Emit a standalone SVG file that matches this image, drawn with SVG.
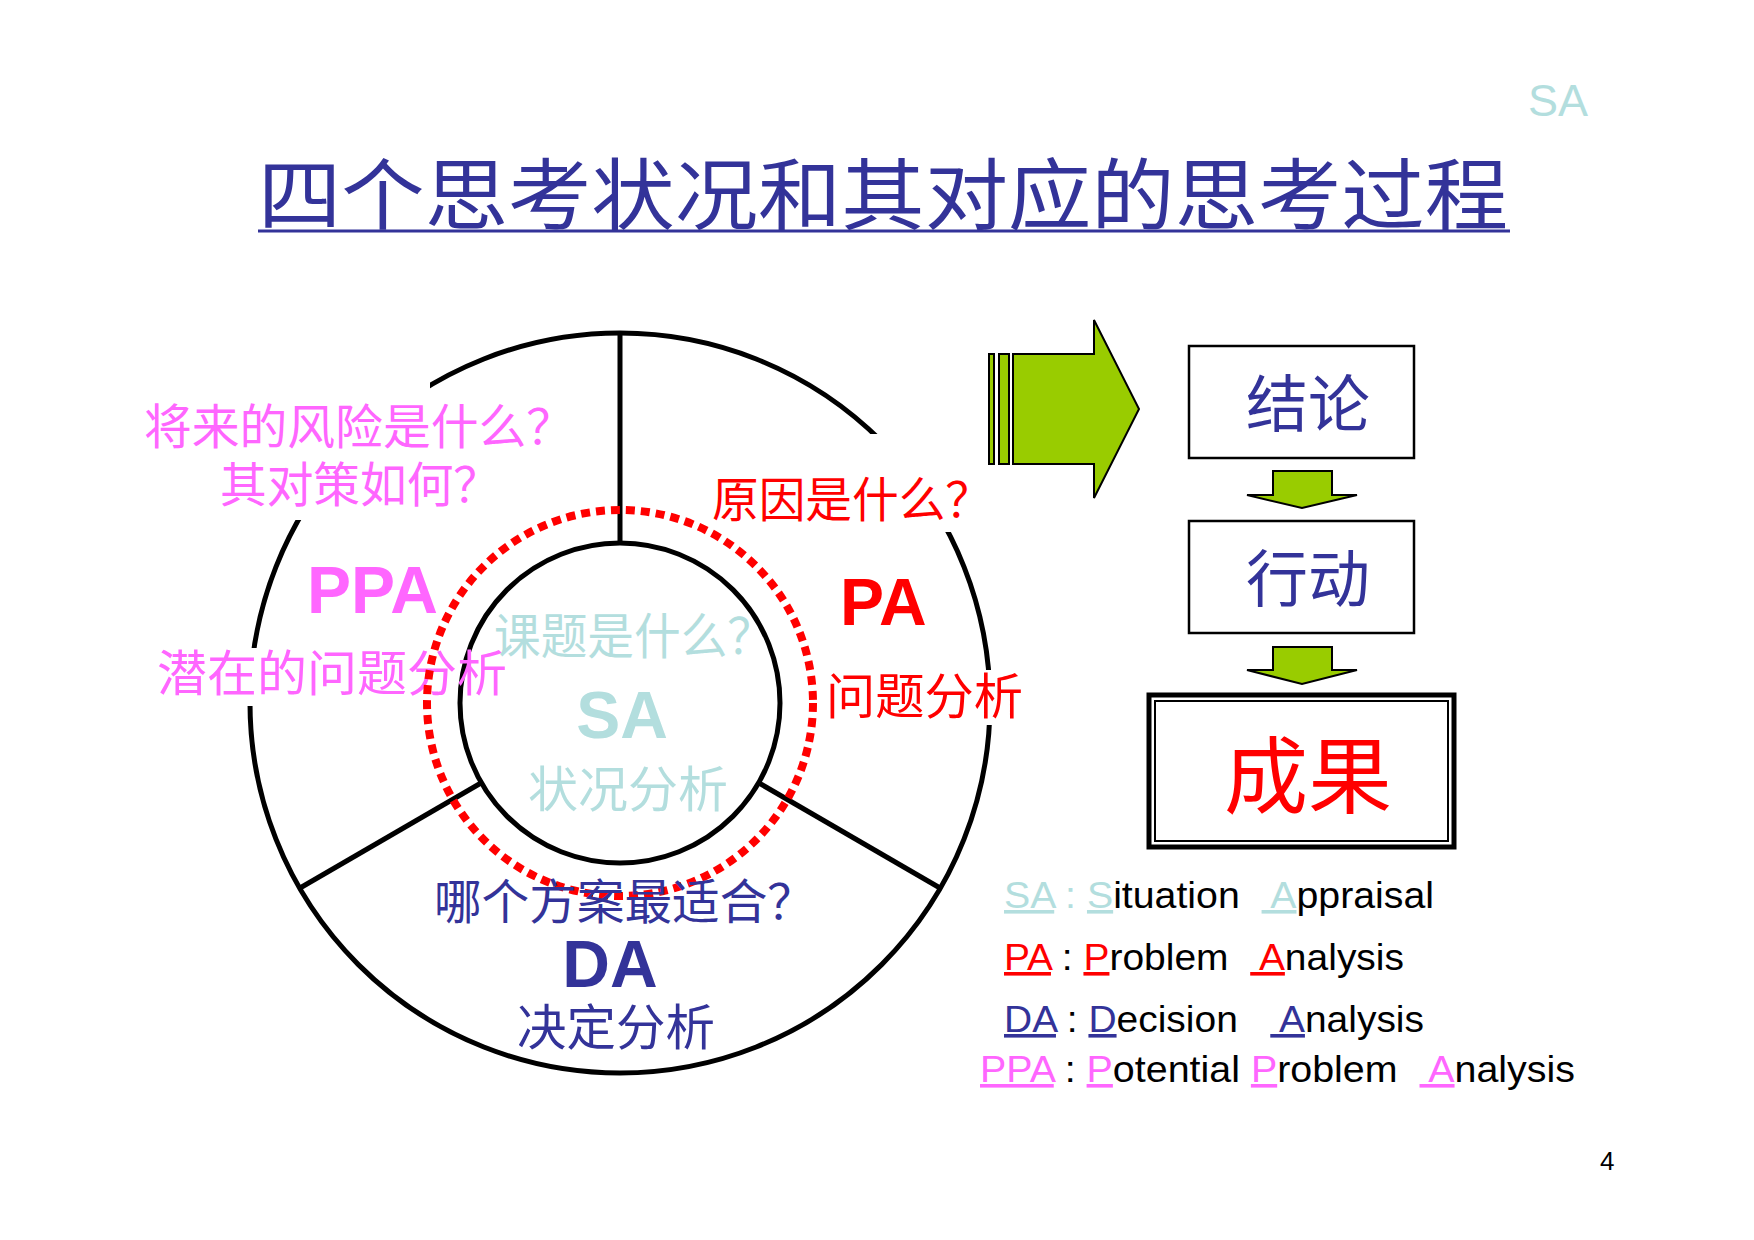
<svg xmlns="http://www.w3.org/2000/svg" width="1754" height="1240" viewBox="0 0 1754 1240">
<style>
.cjk{font-family:"Noto Sans CJK SC","Noto Sans CJK JP",sans-serif}
.lat{font-family:"Liberation Sans",Arial,sans-serif;font-weight:bold}
.leg{font-family:"Liberation Sans",Arial,sans-serif;font-size:36px;fill:#000;white-space:pre}
.grn{fill:#99cc00;stroke:#000;stroke-width:2}
.box{fill:#fff;stroke:#000;stroke-width:2.5}
.mask{fill:#fff}
</style>
<rect width="1754" height="1240" fill="#fff"/>
<text x="1528" y="116" class="lat" style="font-weight:normal" font-size="45" fill="#b3dede">SA</text>
<g id="title">
<text x="883" y="224" class="cjk" font-size="78" fill="#333399" text-anchor="middle" textLength="1250" lengthAdjust="spacingAndGlyphs">四个思考状况和其对应的思考过程</text>
<line x1="258" y1="231" x2="1510" y2="231" stroke="#333399" stroke-width="3"/>
</g>
<g id="wheel">
<circle cx="620" cy="703" r="370" fill="none" stroke="#000" stroke-width="5"/>
<circle cx="620" cy="703" r="160" fill="none" stroke="#000" stroke-width="5"/>
</g>
<g id="connectors" stroke="#000" stroke-width="5">
<line x1="620" y1="333" x2="620" y2="543"/>
<line x1="481" y1="783" x2="300" y2="888"/>
<line x1="759" y1="783" x2="940" y2="888"/>
</g>
<rect class="mask" x="140" y="374" width="290" height="146"/>
<rect class="mask" x="430" y="395" width="150" height="125"/>
<rect class="mask" x="710" y="434" width="290" height="98"/>
<rect class="mask" x="150" y="648" width="112" height="58"/>
<rect class="mask" x="830" y="670" width="200" height="55"/>
<g id="ppa">
<text x="144" y="444" class="cjk" font-size="48" fill="#ff66ff" textLength="430" lengthAdjust="spacingAndGlyphs">将来的风险是什么？</text>
<text x="220" y="502" class="cjk" font-size="48" fill="#ff66ff" textLength="280" lengthAdjust="spacingAndGlyphs">其对策如何？</text>
<text x="307" y="613" class="lat" font-size="66" fill="#ff66ff">PPA</text>
<text x="157" y="691" class="cjk" font-size="49" fill="#ff66ff" textLength="350" lengthAdjust="spacingAndGlyphs">潜在的问题分析</text>
</g>
<g id="pa">
<text x="712" y="517" class="cjk" font-size="48" fill="#ff0000" textLength="280" lengthAdjust="spacingAndGlyphs">原因是什么？</text>
<text x="840" y="625" class="lat" font-size="66" fill="#ff0000">PA</text>
<text x="826" y="714" class="cjk" font-size="49" fill="#ff0000" textLength="197" lengthAdjust="spacingAndGlyphs">问题分析</text>
</g>
<g id="sa">
<circle cx="620" cy="703" r="193" fill="none" stroke="#ff0000" stroke-width="8" stroke-dasharray="9 6"/>
<text x="494" y="654" class="cjk" font-size="49" fill="#b3dede" textLength="280" lengthAdjust="spacingAndGlyphs">课题是什么？</text>
<text x="622" y="738" class="lat" font-size="66" fill="#b3dede" text-anchor="middle">SA</text>
<text x="528" y="807" class="cjk" font-size="49" fill="#b3dede" textLength="200" lengthAdjust="spacingAndGlyphs">状况分析</text>
</g>
<g id="da">
<text x="434" y="919" class="cjk" font-size="48" fill="#333399" textLength="381" lengthAdjust="spacingAndGlyphs">哪个方案最适合？</text>
<text x="610" y="987" class="lat" font-size="66" fill="#333399" text-anchor="middle">DA</text>
<text x="517" y="1045" class="cjk" font-size="49" fill="#333399" textLength="198" lengthAdjust="spacingAndGlyphs">决定分析</text>
</g>
<g id="bigarrow">
<rect class="grn" x="989" y="354" width="5" height="110"/>
<rect class="grn" x="999" y="354" width="10" height="110"/>
<polygon class="grn" points="1013,354 1094,354 1094,320 1139,409 1094,498 1094,464 1013,464"/>
</g>
<g id="conclusion">
<rect class="box" x="1189" y="346" width="225" height="112"/>
<text x="1308" y="427" class="cjk" font-size="62" fill="#333399" text-anchor="middle">结论</text>
</g>
<polygon class="grn" points="1273,471 1332,471 1332,495 1357,495 1302,508 1247,495 1273,495"/>
<g id="action">
<rect class="box" x="1189" y="521" width="225" height="112"/>
<text x="1308" y="602" class="cjk" font-size="62" fill="#333399" text-anchor="middle">行动</text>
</g>
<polygon class="grn" points="1273,647 1332,647 1332,670 1357,670 1302,684 1247,670 1273,670"/>
<g id="result">
<rect x="1149" y="695" width="305" height="152" fill="#fff" stroke="#000" stroke-width="5"/>
<rect x="1155" y="701" width="293" height="140" fill="none" stroke="#000" stroke-width="2"/>
<text x="1308" y="807" class="cjk" font-size="84" fill="#ff0000" text-anchor="middle">成果</text>
</g>
<g id="legend">
<text x="1004" y="908" class="leg" textLength="430" lengthAdjust="spacingAndGlyphs" xml:space="preserve"><tspan fill="#b3dede" text-decoration="underline">SA</tspan><tspan fill="#b3dede"> : </tspan><tspan fill="#b3dede" text-decoration="underline">S</tspan>ituation  <tspan fill="#b3dede" text-decoration="underline"> A</tspan>ppraisal</text>
<text x="1004" y="970" class="leg" textLength="400" lengthAdjust="spacingAndGlyphs" xml:space="preserve"><tspan fill="#ff0000" text-decoration="underline">PA</tspan> : <tspan fill="#ff0000" text-decoration="underline">P</tspan>roblem  <tspan fill="#ff0000" text-decoration="underline"> A</tspan>nalysis</text>
<text x="1004" y="1032" class="leg" textLength="420" lengthAdjust="spacingAndGlyphs" xml:space="preserve"><tspan fill="#333399" text-decoration="underline">DA</tspan> : <tspan fill="#333399" text-decoration="underline">D</tspan>ecision   <tspan fill="#333399" text-decoration="underline"> A</tspan>nalysis</text>
<text x="980" y="1082" class="leg" textLength="595" lengthAdjust="spacingAndGlyphs" xml:space="preserve"><tspan fill="#ff66ff" text-decoration="underline">PPA</tspan> : <tspan fill="#ff66ff" text-decoration="underline">P</tspan>otential <tspan fill="#ff66ff" text-decoration="underline">P</tspan>roblem  <tspan fill="#ff66ff" text-decoration="underline"> A</tspan>nalysis</text>
</g>
<text x="1600" y="1170" font-family="Liberation Sans,Arial,sans-serif" font-size="26" fill="#000">4</text>
</svg>
